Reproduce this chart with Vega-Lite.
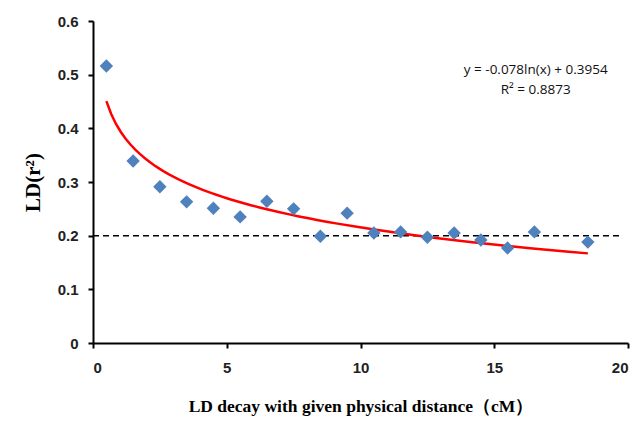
{
  "$schema": "https://vega.github.io/schema/vega-lite/v6.json",
  "width": 535,
  "height": 322,
  "autosize": "none",
  "padding": {"left": 93, "top": 21, "right": 13, "bottom": 78},
  "background": "white",
  "config": {"view": {"stroke": null}},
  "data": {"values": [
    {"x": 0.5, "y": 0.516},
    {"x": 1.5, "y": 0.339},
    {"x": 2.5, "y": 0.291},
    {"x": 3.5, "y": 0.263},
    {"x": 4.5, "y": 0.251},
    {"x": 5.5, "y": 0.235},
    {"x": 6.5, "y": 0.264},
    {"x": 7.5, "y": 0.25},
    {"x": 8.5, "y": 0.199},
    {"x": 9.5, "y": 0.242},
    {"x": 10.5, "y": 0.205},
    {"x": 11.5, "y": 0.207},
    {"x": 12.5, "y": 0.197},
    {"x": 13.5, "y": 0.205},
    {"x": 14.5, "y": 0.192},
    {"x": 15.5, "y": 0.177},
    {"x": 16.5, "y": 0.207},
    {"x": 18.5, "y": 0.188}
  ]},
  "encoding": {
    "x": {"field": "x", "type": "quantitative",
      "scale": {"domain": [0, 20], "nice": false},
      "axis": {"values": [0, 5, 10, 15, 20], "grid": false, "domainColor": "black", "domainWidth": 2, "tickColor": "black", "tickWidth": 2, "tickSize": 5, "labelFont": "Liberation Sans", "labelFontWeight": "bold", "labelFontSize": 15, "labelColor": "#222", "labelPadding": 12,
        "title": "LD decay with given physical distance（cM）", "titleFont": "Liberation Serif", "titleFontSize": 17.5, "titleFontWeight": "bold", "titleColor": "black", "titlePadding": 22}},
    "y": {"field": "y", "type": "quantitative",
      "scale": {"domain": [0, 0.6], "nice": false},
      "axis": {"values": [0, 0.1, 0.2, 0.3, 0.4, 0.5, 0.6], "format": "~g", "grid": false, "domainColor": "black", "domainWidth": 2, "tickColor": "black", "tickWidth": 2, "tickSize": 5, "labelFont": "Liberation Sans", "labelFontWeight": "bold", "labelFontSize": 15, "labelColor": "#222", "labelPadding": 10,
        "title": "LD(r²)", "titleFont": "Liberation Serif", "titleFontSize": 21, "titleFontWeight": "bold", "titleColor": "black", "titlePadding": 14}}
  },
  "layer": [
    {"data": {"values": [{"x0": 0, "x1": 19.8, "y0": 0.2}]},
     "mark": {"type": "rule", "color": "black", "strokeDash": [6, 4], "strokeWidth": 1.5},
     "encoding": {"x": {"field": "x0", "type": "quantitative"}, "x2": {"field": "x1"}, "y": {"field": "y0", "type": "quantitative"}}},
    {"mark": {"type": "line", "color": "#FF0000", "strokeWidth": 2.5},
     "transform": [{"regression": "y", "on": "x", "method": "log", "extent": [0.5, 18.5]}]},
    {"mark": {"type": "point", "shape": "diamond", "filled": true, "color": "#4F81BD", "size": 180, "opacity": 1}},
    {"data": {"values": [{"t": "y = -0.078ln(x) + 0.3954", "tx": 16.55, "ty": 0.508}, {"t": "R² = 0.8873", "tx": 16.55, "ty": 0.472}]},
     "mark": {"type": "text", "font": "Open Sans", "fontWeight": "normal", "fontSize": 13.5, "color": "#111", "align": "center"},
     "encoding": {"x": {"field": "tx", "type": "quantitative"}, "y": {"field": "ty", "type": "quantitative"}, "text": {"field": "t"}}}
  ]
}
